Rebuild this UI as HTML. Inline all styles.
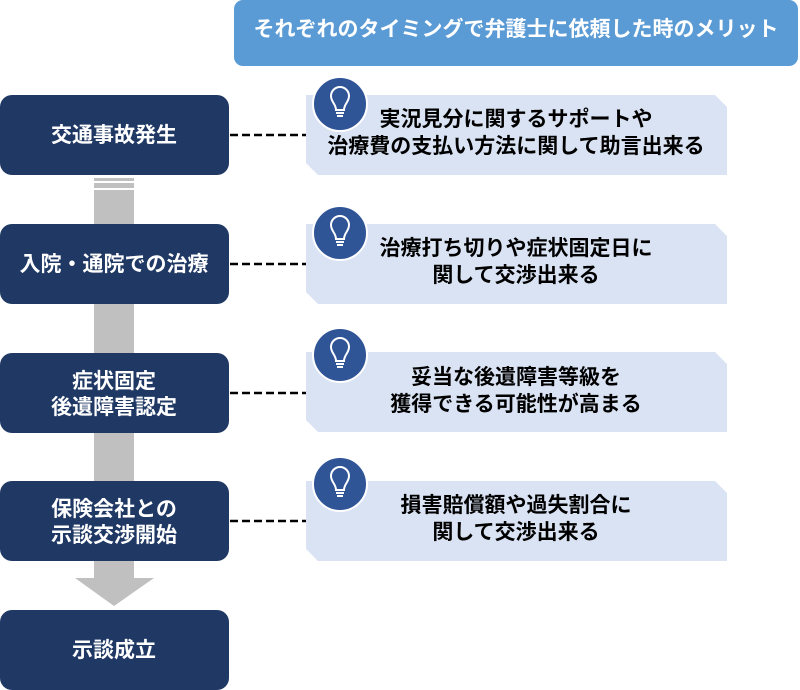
<!DOCTYPE html>
<html><head><meta charset="utf-8"><style>body{margin:0;background:#fff}svg{display:block}text{font-family:"Liberation Sans","Noto Sans CJK JP",sans-serif;font-weight:bold}</style></head><body>
<svg width="800" height="690" viewBox="0 0 800 690" xmlns="http://www.w3.org/2000/svg">
<rect x="234" y="0" width="564" height="66" rx="9" fill="#5b9bd5"/>
<text x="516" y="36" font-size="21" fill="#fff" text-anchor="middle">それぞれのタイミングで弁護士に依頼した時のメリット</text>
<rect x="94" y="178" width="40" height="3" fill="#c0c0c0"/>
<rect x="94" y="183" width="40" height="5" fill="#c0c0c0"/>
<rect x="94" y="190" width="40" height="388" fill="#c0c0c0"/>
<polygon points="75,578 154,578 114,606" fill="#c0c0c0"/>
<g fill="#1f3864">
<rect x="0" y="95" width="229" height="80" rx="12"/>
<rect x="0" y="224" width="229" height="80" rx="12"/>
<rect x="0" y="353" width="229" height="80" rx="12"/>
<rect x="0" y="481" width="229" height="80" rx="12"/>
<rect x="0" y="610" width="229" height="80" rx="12"/>
</g>
<g fill="#fff" font-size="21" text-anchor="middle">
<text x="114" y="142">交通事故発生</text>
<text x="114" y="271">入院・通院での治療</text>
<text x="114" y="388">症状固定</text><text x="114" y="414">後遺障害認定</text>
<text x="114" y="516">保険会社との</text><text x="114" y="542">示談交渉開始</text>
<text x="114" y="657">示談成立</text>
</g>
<g stroke="#000" stroke-width="2.5" stroke-dasharray="8,4">
<line x1="230" y1="135" x2="306" y2="135"/>
<line x1="230" y1="264" x2="306" y2="264"/>
<line x1="230" y1="393" x2="306" y2="393"/>
<line x1="230" y1="521" x2="306" y2="521"/>
</g>
<g fill="#dae3f3">
<polygon points="306,95 715,95 727,107 727,175 318,175 306,163"/>
<polygon points="306,224 715,224 727,236 727,304 318,304 306,292"/>
<polygon points="306,352 715,352 727,364 727,432 318,432 306,420"/>
<polygon points="306,481 715,481 727,493 727,561 318,561 306,549"/>
</g>
<g>
<g transform="translate(340,104)"><circle r="27" fill="#2f5597" stroke="#fff" stroke-width="2"/><path d="M-4,6 C-4,0 -9,-2 -9,-8 A9,9 0 1 1 9,-8 C9,-2 4,0 4,6 Z" fill="none" stroke="#fff" stroke-width="2"/><line x1="-4" y1="9" x2="4" y2="9" stroke="#fff" stroke-width="2"/><line x1="-3" y1="12" x2="3" y2="12" stroke="#fff" stroke-width="2"/></g>
<g transform="translate(340,233)"><circle r="27" fill="#2f5597" stroke="#fff" stroke-width="2"/><path d="M-4,6 C-4,0 -9,-2 -9,-8 A9,9 0 1 1 9,-8 C9,-2 4,0 4,6 Z" fill="none" stroke="#fff" stroke-width="2"/><line x1="-4" y1="9" x2="4" y2="9" stroke="#fff" stroke-width="2"/><line x1="-3" y1="12" x2="3" y2="12" stroke="#fff" stroke-width="2"/></g>
<g transform="translate(340,355)"><circle r="27" fill="#2f5597" stroke="#fff" stroke-width="2"/><path d="M-4,6 C-4,0 -9,-2 -9,-8 A9,9 0 1 1 9,-8 C9,-2 4,0 4,6 Z" fill="none" stroke="#fff" stroke-width="2"/><line x1="-4" y1="9" x2="4" y2="9" stroke="#fff" stroke-width="2"/><line x1="-3" y1="12" x2="3" y2="12" stroke="#fff" stroke-width="2"/></g>
<g transform="translate(340,484)"><circle r="27" fill="#2f5597" stroke="#fff" stroke-width="2"/><path d="M-4,6 C-4,0 -9,-2 -9,-8 A9,9 0 1 1 9,-8 C9,-2 4,0 4,6 Z" fill="none" stroke="#fff" stroke-width="2"/><line x1="-4" y1="9" x2="4" y2="9" stroke="#fff" stroke-width="2"/><line x1="-3" y1="12" x2="3" y2="12" stroke="#fff" stroke-width="2"/></g>
</g>
<g fill="#000" font-size="21" text-anchor="middle">
<text x="516" y="126">実況見分に関するサポートや</text><text x="516" y="153">治療費の支払い方法に関して助言出来る</text>
<text x="516" y="255">治療打ち切りや症状固定日に</text><text x="516" y="282">関して交渉出来る</text>
<text x="516" y="384">妥当な後遺障害等級を</text><text x="516" y="411">獲得できる可能性が高まる</text>
<text x="516" y="512">損害賠償額や過失割合に</text><text x="516" y="539">関して交渉出来る</text>
</g>
</svg>
</body></html>
